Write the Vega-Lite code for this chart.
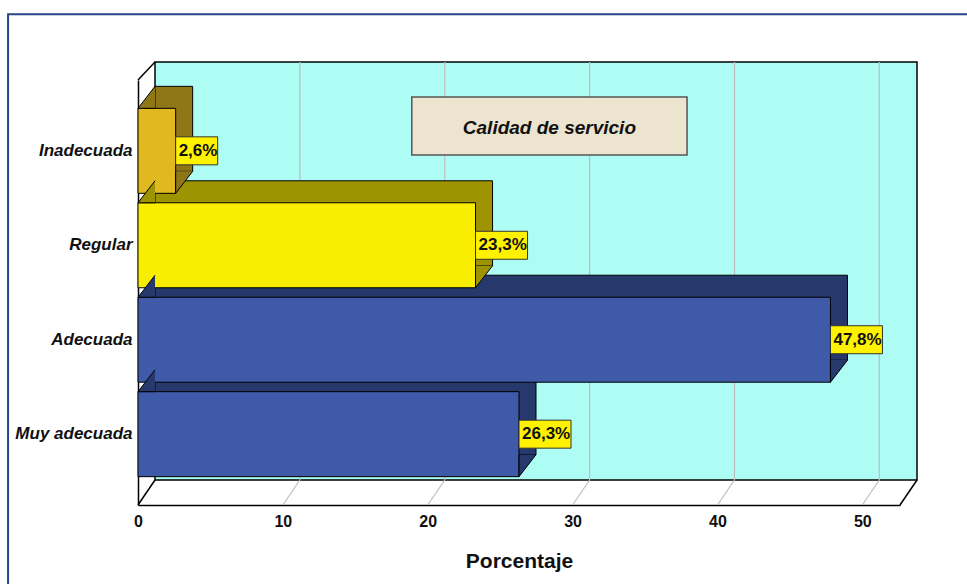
{
  "$schema": "https://vega.github.io/schema/vega-lite/v6.json",
  "width": 762,
  "height": 425,
  "autosize": {"type": "none"},
  "padding": {"left": 138, "top": 80, "right": 67, "bottom": 79},
  "background": "white",
  "config": {
    "view": {"stroke": null},
    "axisX": {
      "labelFont": "Liberation Sans", "labelFontWeight": "bold", "labelFontSize": 16, "labelColor": "#111", "labelFlush": false,
      "ticks": false, "grid": false, "domainColor": "#000", "domainWidth": 1.5, "labelPadding": 8,
      "titleFont": "Liberation Sans", "titleFontSize": 21, "titleFontWeight": "bold", "titleColor": "#111", "titlePadding": 21
    },
    "axisY": {
      "labelFont": "Liberation Sans", "labelFontWeight": "bold", "labelFontStyle": "italic", "labelFontSize": 17, "labelColor": "#111",
      "ticks": false, "grid": false, "domainColor": "#000", "domainWidth": 1.5, "labelPadding": 6, "title": null
    }
  },
  "datasets": {
    "bars": [
      {"cat": "Inadecuada", "pct": 2.6, "label": "2,6%"},
      {"cat": "Regular", "pct": 23.3, "label": "23,3%"},
      {"cat": "Adecuada", "pct": 47.8, "label": "47,8%"},
      {"cat": "Muy adecuada", "pct": 26.3, "label": "26,3%"}
    ],
    "grid": [{"v": 10}, {"v": 20}, {"v": 30}, {"v": 40}, {"v": 50}],
    "one": [{}]
  },
  "data": {"name": "bars"},
  "resolve": {"scale": {"y": "independent"}},
  "layer": [
    {
      "layer": [
        {
          "data": {"name": "one"},
          "mark": {"type": "rect", "fill": "#adfdf5", "stroke": "#000", "strokeWidth": 1.5, "xOffset": 17, "x2Offset": 17, "yOffset": -25, "y2Offset": -18},
          "encoding": {
            "x": {"datum": 0, "type": "quantitative", "scale": {"domain": [0, 52.6], "nice": false}},
            "x2": {"datum": 52.6},
            "y": {"datum": 0, "type": "quantitative", "scale": {"domain": [0, 1], "nice": false}, "axis": null},
            "y2": {"datum": 1}
          }
        },
        {
          "data": {"name": "grid"},
          "mark": {"type": "rule", "stroke": "#bdbdbd", "strokeWidth": 1.2, "xOffset": 17, "yOffset": -25, "y2Offset": -18},
          "encoding": {
            "x": {"field": "v", "type": "quantitative"},
            "y": {"datum": 0, "type": "quantitative", "axis": null},
            "y2": {"datum": 1}
          }
        },
        {
          "data": {"name": "grid"},
          "mark": {"type": "rule", "stroke": "#bdbdbd", "strokeWidth": 1.2, "x2Offset": 17, "y2Offset": -25},
          "encoding": {
            "x": {"field": "v", "type": "quantitative"},
            "x2": {"field": "v"},
            "y": {"datum": 0, "type": "quantitative", "axis": null},
            "y2": {"datum": 0}
          }
        },
        {
          "data": {"name": "one"},
          "mark": {"type": "rule", "stroke": "#000", "strokeWidth": 1.5, "x2Offset": 17, "y2Offset": -25},
          "encoding": {
            "x": {"datum": 0, "type": "quantitative"},
            "x2": {"datum": 0},
            "y": {"datum": 0, "type": "quantitative", "axis": null},
            "y2": {"datum": 0}
          }
        },
        {
          "data": {"name": "one"},
          "mark": {"type": "rule", "stroke": "#000", "strokeWidth": 1.5, "x2Offset": 17, "y2Offset": -25},
          "encoding": {
            "x": {"datum": 52.6, "type": "quantitative"},
            "x2": {"datum": 52.6},
            "y": {"datum": 0, "type": "quantitative", "axis": null},
            "y2": {"datum": 0}
          }
        },
        {
          "data": {"name": "one"},
          "mark": {"type": "rule", "stroke": "#000", "strokeWidth": 1.5, "x2Offset": 17, "y2Offset": -18},
          "encoding": {
            "x": {"datum": 0, "type": "quantitative"},
            "x2": {"datum": 0},
            "y": {"datum": 1, "type": "quantitative", "axis": null},
            "y2": {"datum": 1}
          }
        },
        {
          "data": {"name": "one"},
          "mark": {"type": "rect", "fill": "#ece4cf", "stroke": "#555", "strokeWidth": 1.5},
          "encoding": {
            "x": {"datum": 18.9, "type": "quantitative"},
            "x2": {"datum": 37.9},
            "y": {"datum": 0.8235, "type": "quantitative", "axis": null},
            "y2": {"datum": 0.96}
          }
        },
        {
          "data": {"name": "one"},
          "mark": {"type": "text", "text": "Calidad de servicio", "font": "Liberation Sans", "fontStyle": "italic", "fontWeight": "bold", "fontSize": 19, "color": "#111", "align": "center", "baseline": "middle"},
          "encoding": {
            "x": {"datum": 28.4, "type": "quantitative"},
            "y": {"datum": 0.887, "type": "quantitative", "axis": null}
          }
        },
        {
          "data": {"name": "one"},
          "mark": {"type": "rect", "fill": "transparent", "stroke": "#27468a", "strokeWidth": 2},
          "encoding": {
            "x": {"datum": -8.97, "type": "quantitative"},
            "x2": {"datum": 60},
            "y": {"datum": -0.5, "type": "quantitative", "axis": null},
            "y2": {"datum": 1.155}
          }
        }
      ]
    },
    {
      "encoding": {
        "y": {"field": "cat", "type": "nominal", "scale": {"domain": ["Inadecuada", "Regular", "Adecuada", "Muy adecuada"], "paddingInner": 0.1, "paddingOuter": 0.3}}
      },
      "layer": [
        {
          "mark": {"type": "bar", "stroke": "#000", "strokeWidth": 1, "xOffset": 17, "x2Offset": 17, "yOffset": -22, "y2Offset": -22},
          "encoding": {
            "x": {"field": "pct", "type": "quantitative"},
            "fill": {"condition": [{"test": "datum.cat === 'Inadecuada'", "value": "#8f7616"}, {"test": "datum.cat === 'Regular'", "value": "#9e9300"}], "value": "#27396c"}
          }
        },
        {
          "mark": {"type": "bar", "stroke": "#000", "strokeWidth": 1},
          "encoding": {
            "x": {"field": "pct", "type": "quantitative", "scale": {"domain": [0, 52.6], "nice": false}, "axis": {"title": "Porcentaje", "values": [0, 10, 20, 30, 40, 50]}},
            "fill": {"condition": [{"test": "datum.cat === 'Inadecuada'", "value": "#e0b820"}, {"test": "datum.cat === 'Regular'", "value": "#f9ee00"}], "value": "#3e5aa8"}
          }
        },
        {
          "mark": {"type": "point", "shape": "M17,-42.5L0,-42.5L17,-64.5", "size": 4, "filled": true, "opacity": 1, "stroke": "#000", "strokeWidth": 1},
          "encoding": {
            "x": {"datum": 0, "type": "quantitative"},
            "fill": {"condition": [{"test": "datum.cat === 'Inadecuada'", "value": "#8f7616"}, {"test": "datum.cat === 'Regular'", "value": "#9e9300"}], "value": "#27396c"}
          }
        },
        {
          "mark": {"type": "point", "shape": "M17,20.5L0,42.5L0,20.5", "size": 4, "filled": true, "opacity": 1, "stroke": "#000", "strokeWidth": 1},
          "encoding": {
            "x": {"field": "pct", "type": "quantitative"},
            "fill": {"condition": [{"test": "datum.cat === 'Inadecuada'", "value": "#8f7616"}, {"test": "datum.cat === 'Regular'", "value": "#9e9300"}], "value": "#27396c"}
          }
        },
        {
          "mark": {"type": "point", "size": 4, "filled": true, "opacity": 1, "fill": "#fff200", "stroke": "#333", "strokeWidth": 1},
          "encoding": {
            "x": {"field": "pct", "type": "quantitative"},
            "shape": {"condition": {"test": "datum.cat === 'Inadecuada'", "value": "M0,-14H42V14H0Z"}, "value": "M0,-14H52V14H0Z"}
          }
        },
        {
          "mark": {"type": "text", "align": "left", "baseline": "middle", "dx": 3, "font": "Liberation Sans", "fontWeight": "bold", "fontSize": 17, "color": "#111"},
          "encoding": {
            "x": {"field": "pct", "type": "quantitative"},
            "text": {"field": "label"}
          }
        }
      ]
    }
  ]
}
